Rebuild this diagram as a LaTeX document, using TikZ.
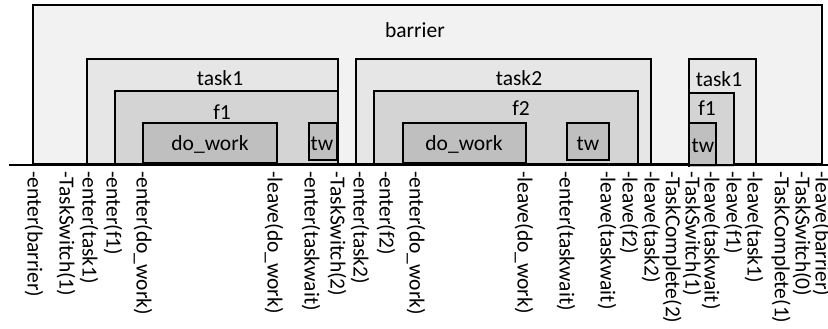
\documentclass[tikz,border=0pt]{standalone}
\usepackage{fontspec}
\setmainfont{Carlito}
\definecolor{cBar}{HTML}{F2F2F2}
\definecolor{cTask}{HTML}{E6E6E6}
\definecolor{cFun}{HTML}{D4D4D4}
\definecolor{cWork}{HTML}{BFBFBF}
\begin{document}
\begin{tikzpicture}[x=1pt,y=-1pt,
  box/.style={draw=black,line width=1.8pt},
  barbox/.style={box,fill=cBar},
  taskbox/.style={box,fill=cTask},
  funbox/.style={box,fill=cFun},
  workbox/.style={box,fill=cWork},
  lab/.style={font=\fontsize{21.5}{26}\selectfont,inner sep=0pt,anchor=base},
  ev/.style={font=\fontsize{21.5}{26}\selectfont,inner sep=0pt,rotate=-90,anchor=west},
  axis/.style={line width=2.8pt,draw=black}]
\useasboundingbox (0,0) rectangle (828,329);
% barrier
\draw[barbox] (33,5) rectangle (822,164);
\node[lab] (lbar) at (415,38) {barrier};
% task1 group
\draw[taskbox] (87,59) rectangle (338,164);
\node[lab] (lt1) at (220,86) {task1};
\draw[funbox] (115,91) rectangle (338,164);
\node[lab] (lf1) at (222,120) {f1};
\draw[workbox] (143,123) rectangle (277,163);
\node[lab] (lw1) at (210,150) {do\_work};
\draw[workbox] (309,123) rectangle (337,160);
\node[lab] (ltw1) at (322,150) {tw};
% task2 group
\draw[taskbox] (356,59) rectangle (651,164);
\node[lab] (lt2) at (519,86) {task2};
\draw[funbox] (374,91) rectangle (638,164);
\node[lab] (lf2) at (521,115) {f2};
\draw[workbox] (403,123) rectangle (526,163);
\node[lab] (lw2) at (464,150) {do\_work};
\draw[workbox] (567,123) rectangle (609,160);
\node[lab] (ltw2) at (588,150) {tw};
% task1 resumed
\draw[taskbox] (689,59) rectangle (756,164);
\node[lab] (lt3) at (719,87) {task1};
\fill[cFun] (689,93) rectangle (734,167);
\draw[box] (689,167) -- (689,93) -- (734,93) -- (734,164);
\node[lab] (lf3) at (707,115) {f1};
\fill[cWork] (689,123) rectangle (716,167);
\draw[box] (689,167) -- (689,123) -- (716,123) -- (716,164);
\node[lab] (ltw3) at (703,152) {tw};
% axis
\coordinate (a0) at (9,165);
\coordinate (a1) at (828,165);
\draw[axis] (a0) -- (a1);
% events
\node[ev] (e1)  at (34,171)  {-enter(barrier)};
\node[ev] (e2)  at (66,171)  {-TaskSwitch(1)};
\node[ev] (e3)  at (89,171)  {-enter(task1)};
\node[ev] (e4)  at (113,171) {-enter(f1)};
\node[ev] (e5)  at (143,171) {-enter(do\_work)};
\node[ev] (e6)  at (274,171) {-leave(do\_work)};
\node[ev] (e7)  at (311,171) {-enter(taskwait)};
\node[ev] (e8)  at (337,171) {-TaskSwitch(2)};
\node[ev] (e9)  at (360,171) {-enter(task2)};
\node[ev] (e10) at (386,171) {-enter(f2)};
\node[ev] (e11) at (416,171) {-enter(do\_work)};
\node[ev] (e12) at (524,171) {-leave(do\_work)};
\node[ev] (e13) at (566,171) {-enter(taskwait)};
\node[ev] (e14) at (607,171) {-leave(taskwait)};
\node[ev] (e15) at (629,171) {-leave(f2)};
\node[ev] (e16) at (651,171) {-leave(task2)};
\node[ev] (e17) at (672,171) {-TaskComplete(2)};
\node[ev] (e18) at (692,171) {-TaskSwitch(1)};
\node[ev] (e19) at (711,171) {-leave(taskwait)};
\node[ev] (e20) at (733,171) {-leave(f1)};
\node[ev] (e21) at (754,171) {-leave(task1)};
\node[ev] (e22) at (781,171) {-TaskComplete(1)};
\node[ev] (e23) at (802,171) {-TaskSwitch(0)};
\node[ev] (e24) at (822,171) {-leave(barrier)};
\end{tikzpicture}
\end{document}
